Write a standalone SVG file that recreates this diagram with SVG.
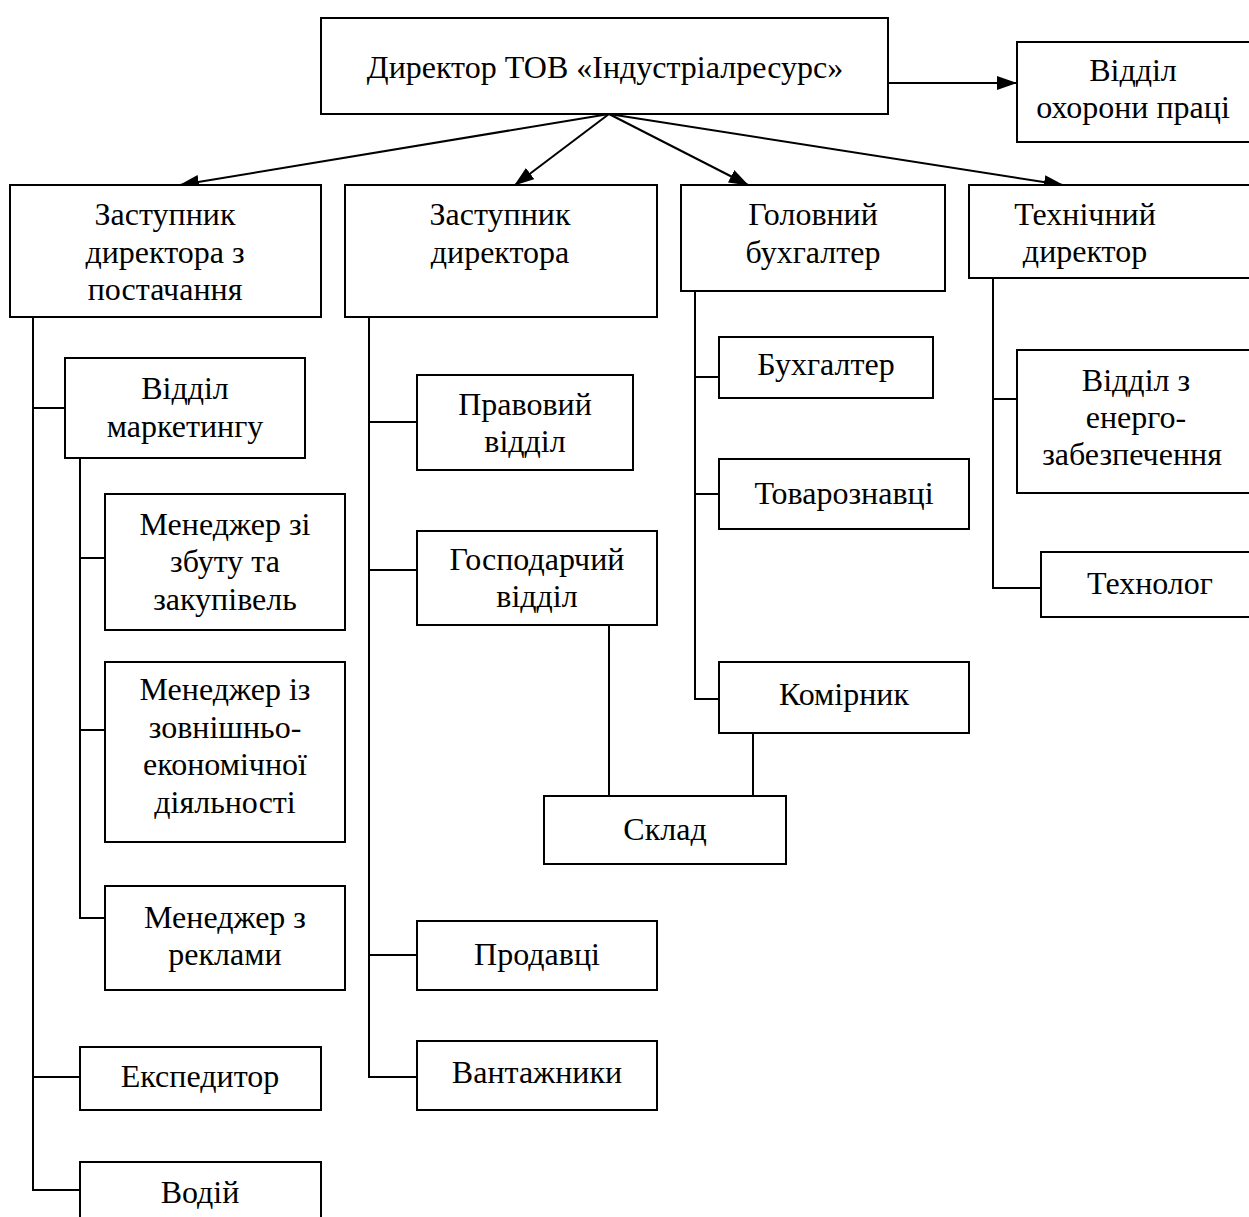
<svg xmlns="http://www.w3.org/2000/svg" width="1249" height="1217" viewBox="0 0 1249 1217">
<style>
.box{fill:#fff;stroke:#000;stroke-width:2}
.ln{fill:none;stroke:#000;stroke-width:2}
text{font-family:"Liberation Serif","Times New Roman",serif;font-size:32px;fill:#000;text-anchor:middle}
</style>
<defs>
<marker id="ah" markerUnits="userSpaceOnUse" markerWidth="20" markerHeight="14" refX="19" refY="7" orient="auto">
<path d="M0,0 L20,7 L0,14 z" fill="#000"/>
</marker>
</defs>
<rect width="1249" height="1217" fill="#fff"/>
<g id="connectors">
<line class="ln" x1="888" y1="83" x2="1016" y2="83" marker-end="url(#ah)"/>
<line class="ln" x1="609" y1="114" x2="180" y2="185" marker-end="url(#ah)"/>
<line class="ln" x1="609" y1="114" x2="515" y2="185" marker-end="url(#ah)"/>
<line class="ln" x1="609" y1="114" x2="748" y2="185" marker-end="url(#ah)"/>
<line class="ln" x1="609" y1="114" x2="1063" y2="185" marker-end="url(#ah)"/>
<path class="ln" d="M33,317 V1190 H80 M33,408 H65 M33,1077 H80"/>
<path class="ln" d="M80,458 V918 H105 M80,558 H105 M80,730 H105"/>
<path class="ln" d="M369,317 V1077 H417 M369,422 H417 M369,570 H417 M369,955 H417"/>
<path class="ln" d="M695,291 V699 H719 M695,377 H719 M695,494 H719"/>
<path class="ln" d="M993,278 V588 H1041 M993,399 H1017"/>
<path class="ln" d="M609,625 V796 M753,733 V796"/>
</g>
<g id="n-director"><rect class="box" x="321" y="18" width="567" height="96"/><text x="605" y="78">Директор ТОВ «Індустріалресурс»</text></g>
<g id="n-okhorona"><rect class="box" x="1017" y="42" width="240" height="100"/><text x="1133" y="81">Відділ</text><text x="1133" y="118">охорони праці</text></g>
<g id="n-zast-post"><rect class="box" x="10" y="185" width="311" height="132"/><text x="165" y="225">Заступник</text><text x="165" y="263">директора з</text><text x="165" y="300">постачання</text></g>
<g id="n-zast"><rect class="box" x="345" y="185" width="312" height="132"/><text x="500" y="225">Заступник</text><text x="500" y="263">директора</text></g>
<g id="n-holbukh"><rect class="box" x="681" y="185" width="264" height="106"/><text x="813" y="225">Головний</text><text x="813" y="263">бухгалтер</text></g>
<g id="n-tekhdir"><rect class="box" x="969" y="185" width="290" height="93"/><text x="1085" y="225">Технічний</text><text x="1085" y="262">директор</text></g>
<g id="n-marketing"><rect class="box" x="65" y="358" width="240" height="100"/><text x="185" y="399">Відділ</text><text x="185" y="437">маркетингу</text></g>
<g id="n-menzbut"><rect class="box" x="105" y="494" width="240" height="136"/><text x="225" y="535">Менеджер зі</text><text x="225" y="572">збуту та</text><text x="225" y="610">закупівель</text></g>
<g id="n-menzed"><rect class="box" x="105" y="662" width="240" height="180"/><text x="225" y="700">Менеджер із</text><text x="225" y="738">зовнішньо-</text><text x="225" y="775">економічної</text><text x="225" y="813">діяльності</text></g>
<g id="n-menrekl"><rect class="box" x="105" y="886" width="240" height="104"/><text x="225" y="928">Менеджер з</text><text x="225" y="965">реклами</text></g>
<g id="n-eksped"><rect class="box" x="80" y="1047" width="241" height="63"/><text x="200" y="1087">Експедитор</text></g>
<g id="n-vodii"><rect class="box" x="80" y="1162" width="241" height="70"/><text x="200" y="1203">Водій</text></g>
<g id="n-pravovyi"><rect class="box" x="417" y="375" width="216" height="95"/><text x="525" y="415">Правовий</text><text x="525" y="452">відділ</text></g>
<g id="n-hospod"><rect class="box" x="417" y="531" width="240" height="94"/><text x="537" y="570">Господарчий</text><text x="537" y="607">відділ</text></g>
<g id="n-prodavtsi"><rect class="box" x="417" y="921" width="240" height="69"/><text x="537" y="965">Продавці</text></g>
<g id="n-vantazh"><rect class="box" x="417" y="1041" width="240" height="69"/><text x="537" y="1083">Вантажники</text></g>
<g id="n-sklad"><rect class="box" x="544" y="796" width="242" height="68"/><text x="665" y="840">Склад</text></g>
<g id="n-bukh"><rect class="box" x="719" y="337" width="214" height="61"/><text x="826" y="375">Бухгалтер</text></g>
<g id="n-tovar"><rect class="box" x="719" y="459" width="250" height="70"/><text x="844" y="504">Товарознавці</text></g>
<g id="n-komirnyk"><rect class="box" x="719" y="662" width="250" height="71"/><text x="844" y="705">Комірник</text></g>
<g id="n-energo"><rect class="box" x="1017" y="350" width="240" height="143"/><text x="1136" y="391">Відділ з</text><text x="1136" y="428">енерго-</text><text x="1132" y="465">забезпечення</text></g>
<g id="n-tekhnolog"><rect class="box" x="1041" y="552" width="218" height="65"/><text x="1150" y="594">Технолог</text></g>
</svg>
